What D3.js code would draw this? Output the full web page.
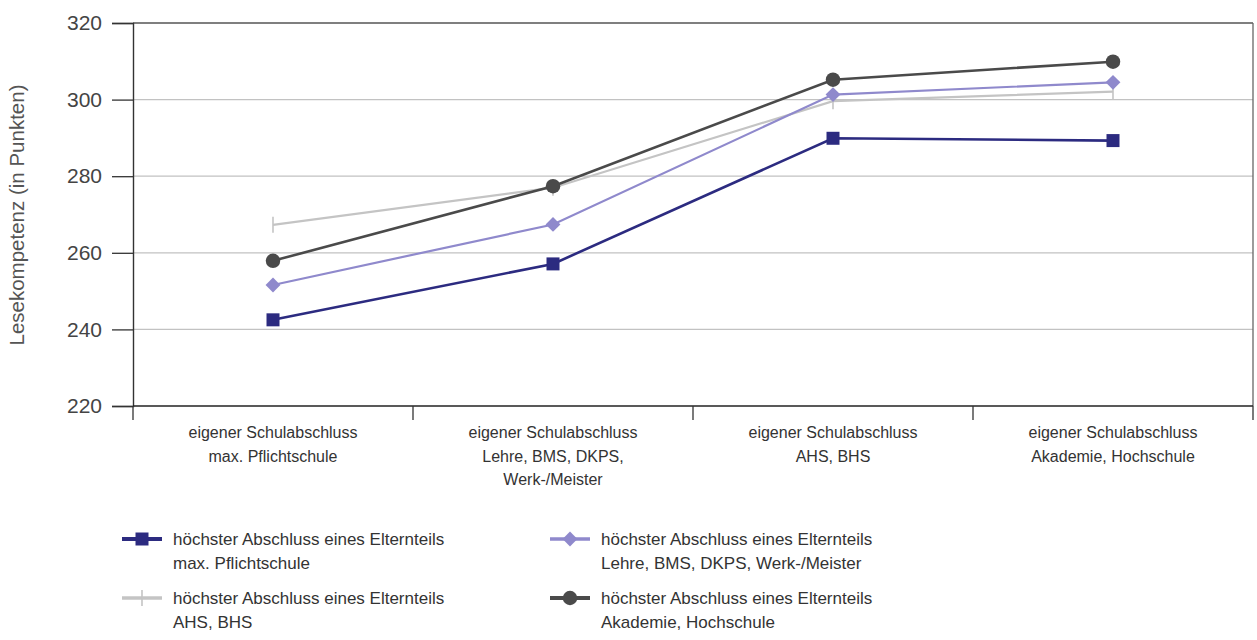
<!DOCTYPE html>
<html>
<head>
<meta charset="utf-8">
<script src="https://cdn.jsdelivr.net/npm/d3@7"></script>
<style>
  html, body { margin: 0; padding: 0; background: #fff; }
  svg { display: block; }
  text { font-family: "Liberation Sans", Arial, Helvetica, sans-serif; }
</style>
</head>
<body>
<svg id="chart" width="1257" height="640"></svg>
<script>
// Eigener Schulabschluss (x-Achse), mehrzeilig
const categories = [
  ["eigener Schulabschluss", "max. Pflichtschule"],
  ["eigener Schulabschluss", "Lehre, BMS, DKPS,", "Werk-/Meister"],
  ["eigener Schulabschluss", "AHS, BHS"],
  ["eigener Schulabschluss", "Akademie, Hochschule"]
];

// Höchster Abschluss eines Elternteils (Serien)
const seriesNames = [
  ["höchster Abschluss eines Elternteils", "max. Pflichtschule"],
  ["höchster Abschluss eines Elternteils", "Lehre, BMS, DKPS, Werk-/Meister"],
  ["höchster Abschluss eines Elternteils", "AHS, BHS"],
  ["höchster Abschluss eines Elternteils", "Akademie, Hochschule"]
];

const valsPflicht  = [242.5, 257.1, 289.9, 289.3];
const valsLehre    = [251.6, 267.4, 301.3, 304.5];
const valsAHS      = [267.3, 277.0, 299.6, 302.1];
const valsAkademie = [257.9, 277.4, 305.2, 309.9];

const yTicks = [220, 240, 260, 280, 300, 320];
const yTitle = "Lesekompetenz (in Punkten)";

const series = [
  { name: seriesNames[0], values: valsPflicht,  color: "#2c2b80", marker: "square",  width: 2.6 },
  { name: seriesNames[1], values: valsLehre,    color: "#8f89cc", marker: "diamond", width: 2.2 },
  { name: seriesNames[2], values: valsAHS,      color: "#c4c4c4", marker: "plus",    width: 2.2 },
  { name: seriesNames[3], values: valsAkademie, color: "#4a4a4a", marker: "circle",  width: 2.6 }
];

const svg = d3.select("#chart");
const plotLeft = 133, plotRight = 1253, plotTop = 23, plotBottom = 406;

const x = d3.scaleBand().domain(d3.range(categories.length)).range([plotLeft, plotRight]);
const y = d3.scaleLinear().domain([220, 320]).range([plotBottom, plotTop]);

// draws one marker of the given kind centred at (cx, cy)
function drawMarker(g, kind, color, cx, cy) {
  if (kind === "square") {
    g.append("path").attr("d", d3.symbol(d3.symbolSquare, 169)())
      .attr("transform", `translate(${cx},${cy})`).attr("fill", color);
  } else if (kind === "diamond") {
    g.append("path").attr("d", d3.symbol(d3.symbolSquare, 110)())
      .attr("transform", `translate(${cx},${cy}) rotate(45)`).attr("fill", color);
  } else if (kind === "circle") {
    g.append("path").attr("d", d3.symbol(d3.symbolCircle, 165)())
      .attr("transform", `translate(${cx},${cy})`).attr("fill", color);
  } else {
    g.append("line").attr("x1", cx).attr("x2", cx).attr("y1", cy - 8).attr("y2", cy + 8)
      .attr("stroke", color).attr("stroke-width", 1.6);
  }
}

// horizontal gridlines
svg.append("g").selectAll("line")
  .data(yTicks.filter(t => t > 220 && t < 320))
  .join("line")
  .attr("x1", plotLeft).attr("x2", plotRight)
  .attr("y1", d => y(d)).attr("y2", d => y(d))
  .attr("stroke", "#c2c2c2").attr("stroke-width", 1.3);

// frame: top and right
svg.append("line").attr("x1", plotLeft).attr("x2", plotRight).attr("y1", y(320)).attr("y2", y(320))
  .attr("stroke", "#555").attr("stroke-width", 1.3);
svg.append("line").attr("x1", plotRight).attr("x2", plotRight).attr("y1", y(320)).attr("y2", y(220))
  .attr("stroke", "#666").attr("stroke-width", 1.3);

// y axis
const yAxis = svg.append("g").attr("transform", `translate(${plotLeft},0)`)
  .call(d3.axisLeft(y).tickValues(yTicks).tickSize(21).tickPadding(10).tickFormat(d3.format("d")));
yAxis.select(".domain").attr("stroke", "#333").attr("stroke-width", 1.4);
yAxis.selectAll(".tick line").attr("stroke", "#333").attr("stroke-width", 1.3);
yAxis.selectAll(".tick text").attr("font-size", 21).attr("fill", "#444")
  .attr("font-family", "'Liberation Sans', Arial, sans-serif");

// x axis with tick marks at band boundaries
const xAxis = svg.append("g").attr("transform", `translate(0,${plotBottom})`);
xAxis.append("line").attr("x1", plotLeft).attr("x2", plotRight).attr("stroke", "#222").attr("stroke-width", 1.4);
const bounds = d3.range(categories.length + 1).map(i => plotLeft + i * x.bandwidth());
xAxis.selectAll("line.tk").data(bounds).join("line").attr("class", "tk")
  .attr("x1", d => d).attr("x2", d => d).attr("y1", 0).attr("y2", 14)
  .attr("stroke", "#333").attr("stroke-width", 1.3);

// category labels
categories.forEach((lines, i) => {
  const cx = x(i) + x.bandwidth() / 2;
  const t = svg.append("text")
    .attr("x", cx)
    .attr("y", 438)
    .attr("text-anchor", "middle")
    .attr("font-size", 16)
    .attr("fill", "#333");
  lines.forEach((l, j) => t.append("tspan").attr("x", cx).attr("dy", j ? 23.5 : 0).text(l));
});

// y axis title
svg.append("text")
  .attr("transform", `translate(24,215) rotate(-90)`)
  .attr("text-anchor", "middle")
  .attr("font-size", 20.5)
  .attr("fill", "#555")
  .text(yTitle);

// lines and markers
const line = d3.line().x((d, i) => x(i) + x.bandwidth() / 2).y(d => y(d));
const drawOrder = [2, 1, 3, 0];
drawOrder.forEach(k => {
  const s = series[k];
  svg.append("path").datum(s.values)
    .attr("d", line)
    .attr("fill", "none")
    .attr("stroke", s.color)
    .attr("stroke-width", s.width);
  const g = svg.append("g");
  s.values.forEach((v, i) => drawMarker(g, s.marker, s.color, x(i) + x.bandwidth() / 2, y(v)));
});

// legend
const legendPos = [
  { lx: 122, ly: 545 },
  { lx: 550, ly: 545 },
  { lx: 122, ly: 604 },
  { lx: 550, ly: 604 }
];
series.forEach((s, k) => {
  const p = legendPos[k];
  const g = svg.append("g");
  const my = p.ly - 6;
  g.append("line").attr("x1", p.lx).attr("x2", p.lx + 40).attr("y1", my).attr("y2", my)
    .attr("stroke", s.color).attr("stroke-width", s.width + 1.2);
  drawMarker(g, s.marker, s.color, p.lx + 20, my);
  const t = g.append("text").attr("x", p.lx + 51).attr("y", p.ly).attr("font-size", 17).attr("fill", "#333");
  s.name.forEach((l, j) => t.append("tspan").attr("x", p.lx + 51).attr("dy", j ? 23.5 : 0).text(l));
});
</script>
</body>
</html>
